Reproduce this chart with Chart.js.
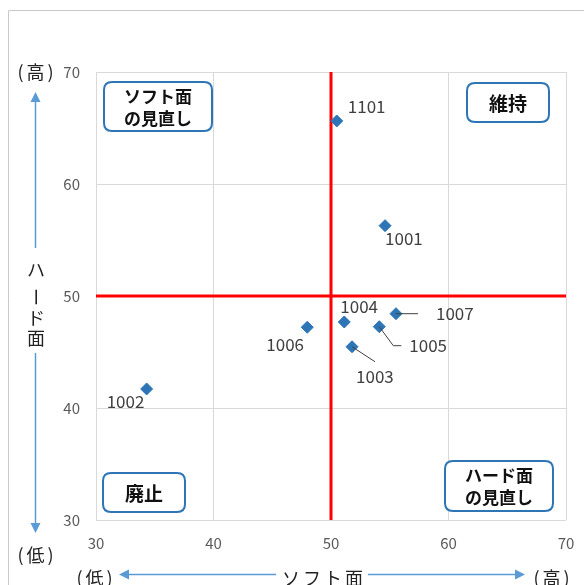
<!DOCTYPE html>
<html><head><meta charset="utf-8">
<script src="https://cdn.jsdelivr.net/npm/chart.js@4"></script>
<style>html,body{margin:0;padding:0;background:#fff;}#wrap{width:584px;height:585px;position:relative;}</style>
</head><body><div id="wrap"><canvas id="c" width="584" height="585"></canvas></div>
<script>
// ---- data ----
const pointNames  = ['1101','1001','1002','1003','1004','1005','1006','1007'];
const softScores  = [50.49, 54.6, 34.31, 51.79, 51.13, 54.11, 47.98, 55.53];
const hardScores  = [65.63, 56.28, 41.7, 45.47, 47.68, 47.26, 47.21, 48.42];
const axisTicks   = [30, 40, 50, 60, 70];
const thresholdSoft = 50;
const thresholdHard = 50;
const quadrantLabels = [['ソフト面','の見直し'], ['維持'], ['廃止'], ['ハード面','の見直し']];
const xAxisTitle = 'ソフト面';
const yAxisTitle = ['ハ','ー','ド','面'];
const highText = '(高)';
const lowText = '(低)';

// ---- layout / style (not data) ----
const FONT = '"Noto Sans CJK JP", "Liberation Sans", sans-serif';
const labelOffsets = [[11,-14],[0,13],[-40,13],[4,30],[-4,-15],[30,19],[-41,17],[40,0]];
const leaderLines = {3: [[0,0],[23,15]], 5: [[0,0],[14,19],[22,19]], 7: [[0,0],[22,0]]};
const quadrantBoxes = [
  {x:104, y:82, w:108, h:49, size:17},
  {x:467, y:83, w:82, h:39, size:19},
  {x:103, y:473, w:82, h:39, size:19},
  {x:445, y:461, w:108, h:50, size:17}
];

function roundRect(ctx, x, y, w, h, r) {
  ctx.beginPath();
  ctx.moveTo(x + r, y);
  ctx.lineTo(x + w - r, y); ctx.quadraticCurveTo(x + w, y, x + w, y + r);
  ctx.lineTo(x + w, y + h - r); ctx.quadraticCurveTo(x + w, y + h, x + w - r, y + h);
  ctx.lineTo(x + r, y + h); ctx.quadraticCurveTo(x, y + h, x, y + h - r);
  ctx.lineTo(x, y + r); ctx.quadraticCurveTo(x, y, x + r, y);
  ctx.closePath();
}
function arrowHead(ctx, tx, ty, dir) {
  ctx.beginPath();
  const L = 10, W = 5;
  if (dir === 'up') { ctx.moveTo(tx, ty); ctx.lineTo(tx - W, ty + L); ctx.lineTo(tx + W, ty + L); }
  if (dir === 'down') { ctx.moveTo(tx, ty); ctx.lineTo(tx - W, ty - L); ctx.lineTo(tx + W, ty - L); }
  if (dir === 'left') { ctx.moveTo(tx, ty); ctx.lineTo(tx + L, ty - W); ctx.lineTo(tx + L, ty + W); }
  if (dir === 'right') { ctx.moveTo(tx, ty); ctx.lineTo(tx - L, ty - W); ctx.lineTo(tx - L, ty + W); }
  ctx.closePath(); ctx.fill();
}

const overlay = {
  id: 'overlay',
  afterDraw(chart) {
    const ctx = chart.ctx;
    ctx.save();
    // outer frame
    ctx.strokeStyle = '#c9c9c9'; ctx.lineWidth = 1;
    ctx.beginPath(); ctx.moveTo(8.5, 600); ctx.lineTo(8.5, 10.5); ctx.lineTo(600, 10.5); ctx.stroke();

    // data labels + leader lines
    const meta = chart.getDatasetMeta(2);
    ctx.font = '17px ' + FONT;
    ctx.fillStyle = '#404040'; ctx.textAlign = 'left'; ctx.textBaseline = 'middle';
    meta.data.forEach((el, i) => {
      const px = el.x, py = el.y;
      if (leaderLines[i]) {
        ctx.strokeStyle = '#404040'; ctx.lineWidth = 1;
        ctx.beginPath();
        leaderLines[i].forEach((p, k) => { k ? ctx.lineTo(px + p[0], py + p[1]) : ctx.moveTo(px + p[0], py + p[1]); });
        ctx.stroke();
      }
      ctx.fillText(pointNames[i], px + labelOffsets[i][0], py + labelOffsets[i][1]);
    });

    // quadrant boxes
    quadrantBoxes.forEach((b, i) => {
      roundRect(ctx, b.x, b.y, b.w, b.h, 8);
      ctx.fillStyle = '#fff'; ctx.fill();
      ctx.strokeStyle = '#2e75b6'; ctx.lineWidth = 2; ctx.stroke();
      ctx.fillStyle = '#111'; ctx.font = 'bold ' + b.size + 'px ' + FONT;
      ctx.textAlign = 'center'; ctx.textBaseline = 'middle';
      const lines = quadrantLabels[i];
      const lh = 22;
      const cy = b.y + b.h / 2;
      lines.forEach((t, k) => ctx.fillText(t, b.x + b.w / 2, cy + (k - (lines.length - 1) / 2) * lh + 1));
    });

    // axis titles
    ctx.fillStyle = '#222'; ctx.font = '18px ' + FONT;
    ctx.textAlign = 'center'; ctx.textBaseline = 'middle';
    ctx.save(); ctx.letterSpacing = '3px';
    ctx.fillText(highText, 37, 72);
    ctx.fillText(lowText, 37, 555);
    ctx.fillText(lowText, 96, 578);
    ctx.fillText(highText, 553, 578);
    ctx.restore();
    // y title stacked
    const yPos = [270, 297, 318, 338];
    yAxisTitle.forEach((ch, k) => {
      if (ch === 'ー') {
        ctx.save(); ctx.translate(36, yPos[k]); ctx.rotate(Math.PI / 2); ctx.fillText(ch, 0, 0); ctx.restore();
      } else ctx.fillText(ch, 36, yPos[k]);
    });
    // x title
    ctx.save(); ctx.letterSpacing = '3px'; ctx.fillText(xAxisTitle, 324, 578); ctx.restore();

    // arrows
    ctx.strokeStyle = '#5b9bd5'; ctx.fillStyle = '#5b9bd5'; ctx.lineWidth = 1.5;
    ctx.beginPath();
    ctx.moveTo(35.5, 100); ctx.lineTo(35.5, 248);
    ctx.moveTo(35.5, 353); ctx.lineTo(35.5, 525);
    ctx.moveTo(125, 574.5); ctx.lineTo(276, 574.5);
    ctx.moveTo(368, 574.5); ctx.lineTo(518, 574.5);
    ctx.stroke();
    arrowHead(ctx, 35.5, 92, 'up');
    arrowHead(ctx, 35.5, 533, 'down');
    arrowHead(ctx, 119, 574.5, 'left');
    arrowHead(ctx, 525, 574.5, 'right');
    ctx.restore();
  }
};

const tickFont = {size: 15, family: FONT};
new Chart(document.getElementById('c'), {
  type: 'scatter',
  data: {
    datasets: [
      {type: 'line', label: 'soft-threshold', data: [{x: thresholdSoft, y: axisTicks[0]}, {x: thresholdSoft, y: axisTicks[axisTicks.length - 1]}],
       borderColor: '#ff0000', borderWidth: 3, pointRadius: 0, fill: false, order: 2},
      {type: 'line', label: 'hard-threshold', data: [{x: axisTicks[0], y: thresholdHard}, {x: axisTicks[axisTicks.length - 1], y: thresholdHard}],
       borderColor: '#ff0000', borderWidth: 3, pointRadius: 0, fill: false, order: 2},
      {label: '施設', data: pointNames.map((n, i) => ({x: softScores[i], y: hardScores[i]})),
       pointStyle: 'rectRot', pointRadius: 6, pointHoverRadius: 6, backgroundColor: '#2e75b6', borderColor: '#2e75b6', borderWidth: 1, order: 1}
    ]
  },
  options: {
    responsive: false, animation: false,
    layout: {padding: {left: 56, top: 72, right: 18, bottom: 25}},
    plugins: {legend: {display: false}, tooltip: {enabled: false}},
    scales: {
      x: {type: 'linear', min: axisTicks[0], max: axisTicks[axisTicks.length - 1],
          afterBuildTicks: s => { s.ticks = axisTicks.map(v => ({value: v})); },
          ticks: {padding: 14, color: '#595959', font: tickFont},
          grid: {color: '#d9d9d9', drawTicks: false}, border: {display: false},
          afterFit: s => { s.height = 40; s.paddingLeft = 0; s.paddingRight = 0; }},
      y: {type: 'linear', min: axisTicks[0], max: axisTicks[axisTicks.length - 1],
          afterBuildTicks: s => { s.ticks = axisTicks.map(v => ({value: v})); },
          ticks: {padding: 16, color: '#595959', font: tickFont},
          grid: {color: '#d9d9d9', drawTicks: false}, border: {display: false},
          afterFit: s => { s.width = 40; s.paddingTop = 0; s.paddingBottom = 0; }}
    }
  },
  plugins: [overlay]
});
</script></body></html>
